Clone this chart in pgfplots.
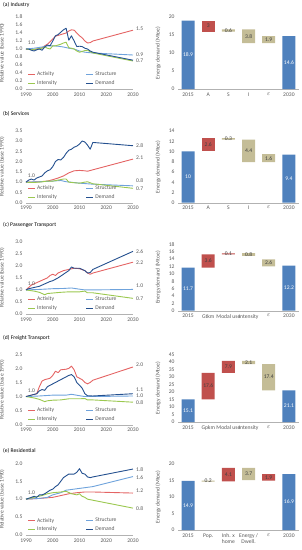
\documentclass[border=0pt]{standalone}
\usepackage{fontspec}
\setmainfont{Carlito}
\usepackage{pgfplots}
\pgfplotsset{compat=1.18}
\definecolor{cAct}{HTML}{E46464}
\definecolor{cStr}{HTML}{6FA3DC}
\definecolor{cInt}{HTML}{9BC850}
\definecolor{cDem}{HTML}{24508F}
\definecolor{bBlue}{HTML}{4F81BD}
\definecolor{bRed}{HTML}{C0504D}
\definecolor{bTan}{HTML}{C4BD97}
\definecolor{txt}{HTML}{595959}
\newcommand{\fs}{\fontsize{5.6}{6.4}\selectfont}
\newcommand{\eps}{$\varepsilon$}
\pgfplotsset{
  base/.style={scale only axis, anchor=south west, clip=false,
    /pgf/number format/assume math mode=true,
    separate axis lines, axis x line*=bottom, axis y line*=left,
    y axis line style={draw=none}, x axis line style={draw=black!30, line width=0.4pt},
    major tick length=0pt, tick label style={font=\fs, text=txt},
    label style={font=\fs, text=txt}},
  lineax/.style={base, width=107pt, xmin=1990, xmax=2030, xtick={1990,2000,...,2030}, ymin=0,
    xticklabel style={/pgf/number format/1000 sep={}},
    yticklabel style={/pgf/number format/.cd, fixed, fixed zerofill, precision=1},
    ylabel={Relative value (base 1990)},
    ylabel style={at={(axis description cs:-0.17,0.5)}, anchor=south},
    legend style={at={(rel axis cs:0.015,0.01)}, anchor=south west, draw=none, fill=none, font=\fs, text=txt,
      legend columns=2, row sep=-0.8pt, inner sep=0pt,
      /tikz/every even column/.append style={column sep=27pt}},
    legend image code/.code={\draw[##1, line width=0.9pt] (0pt,0pt) -- (6.5pt,0pt);},
    legend cell align=left},
  ln/.style={line width=0.9pt, line join=round, mark=none},
  wfax/.style={base, width=121pt, xmin=-0.5, xmax=5.5, ymin=0, ybar stacked, bar width=13pt,
    xtick={0,...,5}, ylabel={Energy demand (Mtoe)},
    ylabel style={at={(axis description cs:-0.115,0.5)}, anchor=south}},
  wflab/.style={scale only axis, anchor=south west, width=121pt, xmin=-0.5, xmax=5.5, ymin=0, hide axis, clip=false},
  lab/.style={draw=none, mark=none, nodes near coords, point meta=explicit symbolic,
    nodes near coords align=center,
    every node near coord/.append style={anchor=center, font=\fs, text=#1, inner sep=0pt}},
}
\newcommand{\rlab}[2]{\node[anchor=west, font=\fs, text=txt, inner sep=0pt] at (axis cs:2030,#1) [xshift=3pt] {#2};}
\newcommand{\slab}{\node[font=\fs, text=txt, inner sep=0pt] at (axis cs:1992,1) [yshift=6.3pt] {1.0};}
\begin{document}
\begin{tikzpicture}
\useasboundingbox (0,0) rectangle (301pt,-550pt);
% ================= (a) Industry
\node[anchor=west, font=\fs, inner sep=0pt] at (3pt,-5pt) {(a) Industry};
\begin{axis}[lineax, at={(26pt,-89pt)}, height=72pt, ymax=1.8, ytick={0,0.2,...,1.8}]
\addplot[ln, cAct] coordinates {(1990,1.00)(1991,0.99)(1992,1.00)(1993,0.98)(1994,1.00)(1995,1.02)(1996,1.03)(1997,1.08)(1998,1.12)(1999,1.18)(2000,1.25)(2001,1.32)(2002,1.34)(2003,1.36)(2004,1.38)(2005,1.40)(2006,1.45)(2007,1.48)(2008,1.47)(2009,1.40)(2010,1.33)(2011,1.28)(2012,1.20)(2013,1.15)(2014,1.16)(2015,1.20)(2030,1.47)};
\addlegendentry{Activity}
\addplot[ln, cStr] coordinates {(1990,1.00)(1993,1.02)(1996,1.05)(1998,1.08)(2000,1.08)(2002,1.07)(2004,1.05)(2006,1.02)(2008,1.00)(2010,0.95)(2012,0.92)(2015,0.90)(2030,0.85)};
\addlegendentry{Structure}
\addplot[ln, cInt] coordinates {(1990,1.00)(1992,0.98)(1994,1.00)(1996,1.02)(1997,1.05)(1998,1.02)(1999,1.00)(2000,1.08)(2001,1.08)(2002,1.10)(2003,1.12)(2004,1.15)(2005,1.17)(2006,1.03)(2007,1.02)(2008,1.00)(2009,0.95)(2010,0.92)(2011,0.94)(2012,0.96)(2013,0.97)(2014,0.93)(2015,0.90)(2030,0.70)};
\addlegendentry{Intensity}
\addplot[ln, cDem] coordinates {(1990,1.00)(1991,1.00)(1992,0.97)(1993,0.95)(1994,0.98)(1995,1.00)(1996,0.97)(1997,1.05)(1998,1.10)(1999,1.08)(2000,1.20)(2001,1.33)(2002,1.36)(2003,1.42)(2004,1.48)(2005,1.52)(2006,1.22)(2007,1.33)(2008,1.20)(2009,1.06)(2010,1.07)(2011,1.06)(2012,1.02)(2013,1.00)(2014,0.95)(2015,0.92)(2030,0.72)};
\addlegendentry{Demand}
\slab \rlab{1.5}{1.5} \rlab{0.87}{0.9} \rlab{0.72}{0.7}
\end{axis}
\begin{axis}[wfax, at={(178pt,-89pt)}, height=72.3pt, ymax=20, ytick={0,5,...,20}, xticklabels={2015,A,S,I,\eps,2030}]
\addplot[draw=none, fill=none] coordinates {(0,0)(1,15.9)(2,15.9)(3,12.7)(4,12.7)(5,0)};
\addplot[draw=none, fill=bBlue] coordinates {(0,18.9)(1,0)(2,0)(3,0)(4,0)(5,14.6)};
\addplot[draw=none, fill=bRed] coordinates {(0,0)(1,3.0)(2,0)(3,0)(4,0)(5,0)};
\addplot[draw=none, fill=bTan] coordinates {(0,0)(1,0)(2,0.6)(3,3.8)(4,1.9)(5,0)};
\end{axis}
\begin{axis}[wflab, at={(178pt,-89pt)}, height=72.3pt, ymax=20]
\addplot[lab=white] table[meta=l] {
x y l
0 9.45 18.9
5 7.3 14.6
};
\addplot[lab=black!75] table[meta=l] {
x y l
1 17.4 3
2 16.2 0.6
3 14.6 3.8
4 13.65 1.9
};
\end{axis}
% ================= (b) Services
\node[anchor=west, font=\fs, inner sep=0pt] at (3pt,-114.3pt) {(b) Services};
\begin{axis}[lineax, at={(26pt,-202.7pt)}, height=72pt, ymax=3.5, ytick={0,0.5,...,3.5}]
\addplot[ln, cAct] coordinates {(1990,1.00)(1992,1.00)(1995,1.02)(1998,1.05)(2000,1.12)(2002,1.20)(2004,1.30)(2006,1.45)(2008,1.55)(2010,1.57)(2012,1.55)(2013,1.53)(2015,1.60)(2030,2.12)};
\addlegendentry{Activity}
\addplot[ln, cStr] coordinates {(1990,1.00)(1995,1.02)(2000,1.05)(2003,1.08)(2005,1.02)(2008,0.98)(2010,0.95)(2013,0.92)(2015,0.90)(2030,0.82)};
\addlegendentry{Structure}
\addplot[ln, cInt] coordinates {(1990,1.00)(1992,0.98)(1995,1.00)(1998,1.05)(2000,1.05)(2002,1.10)(2004,1.15)(2005,1.15)(2006,1.00)(2008,0.97)(2010,0.95)(2012,1.00)(2013,1.02)(2014,0.97)(2015,0.92)(2030,0.70)};
\addlegendentry{Intensity}
\addplot[ln, cDem] coordinates {(1990,1.00)(1991,1.10)(1992,1.15)(1993,1.10)(1994,1.20)(1995,1.25)(1996,1.30)(1997,1.45)(1998,1.55)(1999,1.60)(2000,1.75)(2001,2.00)(2002,2.10)(2003,2.08)(2004,2.20)(2005,2.40)(2006,2.55)(2007,2.60)(2008,2.70)(2009,2.75)(2010,2.85)(2011,3.00)(2012,2.95)(2013,2.80)(2014,2.60)(2015,2.93)(2030,2.77)};
\addlegendentry{Demand}
\slab \rlab{2.76}{2.8} \rlab{2.19}{2.1} \rlab{1.05}{0.8} \rlab{0.66}{0.7}
\end{axis}
\begin{axis}[wfax, at={(178pt,-202.7pt)}, height=71.7pt, ymax=14, ytick={0,2,...,14}, xticklabels={2015,A,S,I,\eps,2030}]
\addplot[draw=none, fill=none] coordinates {(0,0)(1,10)(2,12.3)(3,7.9)(4,7.9)(5,0)};
\addplot[draw=none, fill=bBlue] coordinates {(0,10)(1,0)(2,0)(3,0)(4,0)(5,9.4)};
\addplot[draw=none, fill=bRed] coordinates {(0,0)(1,2.6)(2,0)(3,0)(4,0)(5,0)};
\addplot[draw=none, fill=bTan] coordinates {(0,0)(1,0)(2,0.3)(3,4.4)(4,1.6)(5,0)};
\end{axis}
\begin{axis}[wflab, at={(178pt,-202.7pt)}, height=71.7pt, ymax=14]
\addplot[lab=white] table[meta=l] {
x y l
0 5 10
5 4.7 9.4
};
\addplot[lab=black!75] table[meta=l] {
x y l
1 11.3 2.6
2 12.45 0.3
3 10.1 4.4
4 8.7 1.6
};
\end{axis}
% ================= (c) Passenger Transport
\node[anchor=west, font=\fs, inner sep=0pt] at (3pt,-224.7pt) {(c) Passenger Transport};
\begin{axis}[lineax, at={(26pt,-314pt)}, height=72.3pt, ymax=3.0, ytick={0,0.5,...,3.0}]
\addplot[ln, cAct] coordinates {(1990,1.00)(1991,1.10)(1992,1.20)(1994,1.30)(1996,1.40)(1998,1.50)(1999,1.60)(2000,1.65)(2001,1.60)(2002,1.70)(2004,1.80)(2006,1.85)(2008,1.90)(2010,1.88)(2012,1.80)(2013,1.70)(2014,1.65)(2015,1.70)(2030,2.15)};
\addlegendentry{Activity}
\addplot[ln, cStr] coordinates {(1990,1.00)(1995,1.02)(2000,1.05)(2004,1.06)(2007,1.08)(2010,1.03)(2012,1.00)(2015,1.00)(2030,1.02)};
\addlegendentry{Structure}
\addplot[ln, cInt] coordinates {(1990,1.00)(1993,0.95)(1995,0.90)(1996,0.85)(1997,0.80)(1998,0.85)(2000,0.87)(2003,0.90)(2006,0.92)(2010,0.92)(2012,0.95)(2013,0.88)(2015,0.88)(2030,0.65)};
\addlegendentry{Intensity}
\addplot[ln, cDem] coordinates {(1990,1.00)(1991,1.05)(1993,1.10)(1995,1.15)(1997,1.25)(1999,1.35)(2000,1.38)(2002,1.50)(2004,1.65)(2006,1.80)(2007,1.95)(2008,1.90)(2010,1.90)(2012,1.80)(2013,1.70)(2014,1.72)(2015,1.85)(2030,2.60)};
\addlegendentry{Demand}
\slab \rlab{2.59}{2.6} \rlab{2.14}{2.2} \rlab{1.18}{1.0} \rlab{0.62}{0.7}
\end{axis}
\begin{axis}[wfax, at={(178pt,-310.7pt)}, height=66.4pt, ymax=18, ytick={0,2,...,18}, xticklabels={2015,Gtkm,Modal use,Intensity,\eps,2030}]
\addplot[draw=none, fill=none] coordinates {(0,0)(1,11.7)(2,15.3)(3,14.85)(4,12.05)(5,0)};
\addplot[draw=none, fill=bBlue] coordinates {(0,11.7)(1,0)(2,0)(3,0)(4,0)(5,12.2)};
\addplot[draw=none, fill=bRed] coordinates {(0,0)(1,3.6)(2,0.25)(3,0)(4,0)(5,0)};
\addplot[draw=none, fill=bTan] coordinates {(0,0)(1,0)(2,0)(3,0.75)(4,1.85)(5,0)};
\end{axis}
\begin{axis}[wflab, at={(178pt,-310.7pt)}, height=66.4pt, ymax=18]
\addplot[lab=white] table[meta=l] {
x y l
0 5.85 11.7
5 6.1 12.2
};
\addplot[lab=black!75] table[meta=l] {
x y l
1 13.5 3.6
2 15.42 0.1
3 15.22 0.8
4 12.97 2.6
};
\end{axis}
% ================= (d) Freight Transport
\node[anchor=west, font=\fs, inner sep=0pt] at (3pt,-338pt) {(d) Freight Transport};
\begin{axis}[lineax, at={(26pt,-424.7pt)}, height=70.4pt, ymax=2.5, ytick={0,0.5,...,2.5}]
\addplot[ln, cAct] coordinates {(1990,1.00)(1992,1.05)(1994,1.10)(1995,1.35)(1996,1.55)(1997,1.60)(1999,1.65)(2000,1.75)(2001,1.90)(2002,1.85)(2003,1.95)(2005,1.97)(2006,2.00)(2007,2.08)(2008,1.95)(2009,1.70)(2010,1.65)(2011,1.60)(2012,1.50)(2013,1.45)(2014,1.50)(2015,1.58)(2030,2.05)};
\addlegendentry{Activity}
\addplot[ln, cStr] coordinates {(1990,1.00)(1995,1.02)(2000,1.05)(2005,1.05)(2007,1.08)(2010,1.03)(2012,1.00)(2015,1.00)(2030,1.02)};
\addlegendentry{Structure}
\addplot[ln, cInt] coordinates {(1990,1.00)(1993,0.95)(1995,0.90)(1997,0.82)(1998,0.85)(2000,0.87)(2003,0.88)(2006,0.92)(2010,0.92)(2012,0.93)(2013,0.88)(2015,0.88)(2030,0.80)};
\addlegendentry{Intensity}
\addplot[ln, cDem] coordinates {(1990,1.00)(1992,1.05)(1994,1.10)(1995,1.20)(1996,1.25)(1997,1.22)(1998,1.35)(2000,1.45)(2002,1.55)(2004,1.65)(2006,1.75)(2007,1.78)(2008,1.70)(2009,1.50)(2010,1.40)(2011,1.30)(2012,1.10)(2013,1.03)(2015,1.02)(2030,1.10)};
\addlegendentry{Demand}
\slab \rlab{2.14}{2.0} \rlab{1.23}{1.1} \rlab{1.02}{1.0} \rlab{0.78}{0.8}
\end{axis}
\begin{axis}[wfax, at={(178pt,-422pt)}, height=67.7pt, ymax=45, ytick={0,5,...,45}, xticklabels={2015,Gpkm,Modal use,Intensity,\eps,2030}]
\addplot[draw=none, fill=none] coordinates {(0,0)(1,15.1)(2,32.7)(3,38.5)(4,21.1)(5,0)};
\addplot[draw=none, fill=bBlue] coordinates {(0,15.1)(1,0)(2,0)(3,0)(4,0)(5,21.1)};
\addplot[draw=none, fill=bRed] coordinates {(0,0)(1,17.6)(2,7.9)(3,0)(4,0)(5,0)};
\addplot[draw=none, fill=bTan] coordinates {(0,0)(1,0)(2,0)(3,2.1)(4,17.4)(5,0)};
\end{axis}
\begin{axis}[wflab, at={(178pt,-422pt)}, height=67.7pt, ymax=45]
\addplot[lab=white] table[meta=l] {
x y l
0 7.55 15.1
5 10.55 21.1
};
\addplot[lab=black!75] table[meta=l] {
x y l
1 23.9 17.6
2 36.65 7.9
3 39.55 2.1
4 29.8 17.4
};
\end{axis}
% ================= (e) Residential
\node[anchor=west, font=\fs, inner sep=0pt] at (3pt,-451pt) {(e) Residential};
\begin{axis}[lineax, at={(26pt,-535pt)}, height=71.7pt, ymax=2.0, ytick={0,0.5,...,2.0}]
\addplot[ln, cAct] coordinates {(1990,1.00)(1995,1.02)(2000,1.05)(2003,1.10)(2006,1.15)(2009,1.18)(2012,1.20)(2015,1.20)(2030,1.17)};
\addlegendentry{Activity}
\addplot[ln, cStr] coordinates {(1990,1.00)(1995,1.02)(1998,1.05)(2000,1.12)(2003,1.18)(2005,1.25)(2008,1.28)(2010,1.30)(2013,1.33)(2015,1.35)(2030,1.63)};
\addlegendentry{Structure}
\addplot[ln, cInt] coordinates {(1990,1.00)(1993,1.05)(1996,1.10)(1998,1.15)(2000,1.18)(2003,1.20)(2005,1.22)(2007,1.15)(2009,1.12)(2010,1.15)(2011,1.08)(2012,1.05)(2013,1.00)(2015,0.97)(2030,0.75)};
\addlegendentry{Intensity}
\addplot[ln, cDem] coordinates {(1990,1.00)(1992,1.05)(1993,1.08)(1994,1.05)(1995,1.12)(1996,1.12)(1997,1.15)(1998,1.20)(1999,1.25)(2000,1.28)(2001,1.35)(2002,1.40)(2003,1.50)(2004,1.60)(2005,1.65)(2006,1.70)(2007,1.70)(2008,1.70)(2009,1.75)(2010,1.85)(2011,1.72)(2012,1.70)(2013,1.62)(2014,1.60)(2015,1.62)(2030,1.84)};
\addlegendentry{Demand}
\slab \rlab{1.83}{1.8} \rlab{1.61}{1.6} \rlab{1.24}{1.2} \rlab{0.74}{0.8}
\end{axis}
\begin{axis}[wfax, at={(178pt,-530pt)}, height=66pt, ymax=20, ytick={0,5,...,20},
  xticklabels={2015,Pop.,{Inh. x\\home},{Energy /\\Dwell.},\eps,2030},
  xticklabel style={align=center, anchor=north}]
\addplot[draw=none, fill=none] coordinates {(0,0)(1,14.65)(2,14.7)(3,15.1)(4,15.0)(5,0)};
\addplot[draw=none, fill=bBlue] coordinates {(0,14.9)(1,0)(2,0)(3,0)(4,0)(5,16.9)};
\addplot[draw=none, fill=bRed] coordinates {(0,0)(1,0)(2,4.1)(3,0)(4,1.9)(5,0)};
\addplot[draw=none, fill=bTan] coordinates {(0,0)(1,0.3)(2,0)(3,3.7)(4,0)(5,0)};
\end{axis}
\begin{axis}[wflab, at={(178pt,-530pt)}, height=66pt, ymax=20]
\addplot[lab=white] table[meta=l] {
x y l
0 7.45 14.9
5 8.45 16.9
};
\addplot[lab=black!75] table[meta=l] {
x y l
1 14.8 0.2
2 16.75 4.1
3 16.95 3.7
4 15.95 1.9
};
\end{axis}
\end{tikzpicture}
\end{document}
